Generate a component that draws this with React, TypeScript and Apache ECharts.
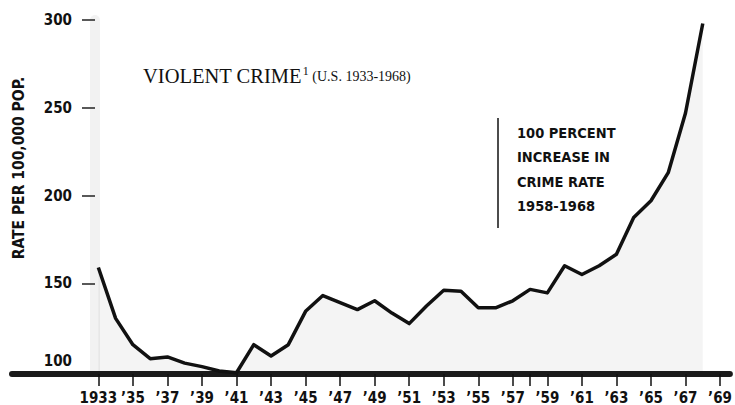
import React, { useEffect, useRef } from "react";
import * as echarts from "echarts";

const years = [
  1933, 1934, 1935, 1936, 1937, 1938, 1939, 1940, 1941, 1942, 1943, 1944,
  1945, 1946, 1947, 1948, 1949, 1950, 1951, 1952, 1953, 1954, 1955, 1956,
  1957, 1958, 1959, 1960, 1961, 1962, 1963, 1964, 1965, 1966, 1967, 1968,
];
const rates = [
  159, 130, 115, 107, 108, 104.5, 102.5, 100, 99, 115, 108.5, 115,
  134, 143, 139, 135, 140, 133, 127, 137, 146, 145.5, 136, 136,
  140, 146.5, 144.5, 160, 155, 160, 166.5, 187.5, 197, 213, 247, 298,
];
const xTickValues = [
  1933, 1935, 1937, 1939, 1941, 1943, 1945, 1947, 1949, 1951, 1953, 1955,
  1957, 1958, 1959, 1961, 1963, 1965, 1967, 1969,
];
const xLabelValues = [
  1933, 1935, 1937, 1939, 1941, 1943, 1945, 1947, 1949, 1951, 1953, 1955,
  1957, 1959, 1961, 1963, 1965, 1967, 1969,
];
const yTickValues = [150, 200, 250, 300];
const yLabelValues = [100, 150, 200, 250, 300];

const title = "VIOLENT CRIME";
const titleNote = "1";
const titleSub = "(U.S. 1933-1968)";
const yName = "RATE PER 100,000 POP.";
const annotation = ["100 PERCENT", "INCREASE IN", "CRIME RATE", "1958-1968"];

const SANS = "'Liberation Sans Narrow', 'DejaVu Sans Condensed', 'Liberation Sans', sans-serif";

export default function App() {
  const ref = useRef<HTMLDivElement>(null);
  useEffect(() => {
    document.body.style.margin = "0";
    const chart = echarts.init(ref.current!, null, { renderer: "svg" });
    chart.setOption({
      animation: false,
      backgroundColor: "#ffffff",
      grid: { left: 12, right: 0, top: 20, bottom: 34 },
      xAxis: {
        type: "value",
        min: 1928,
        max: 1969.57,
        offset: 3,
        splitLine: { show: false },
        axisLine: { show: true, lineStyle: { color: "#1a1a1a", width: 6 } },
        axisTick: {
          show: true,
          length: 12,
          customValues: xTickValues,
          lineStyle: { color: "#111", width: 1.5 },
        },
        axisLabel: {
          customValues: xLabelValues,
          margin: 16,
          color: "#111",
          fontFamily: SANS,
          fontWeight: "bold",
          fontSize: 15,
          formatter: (v: number) =>
            v === 1933 ? "1933" : "\u2019" + String(v).slice(2),
        },
      },
      yAxis: {
        type: "value",
        min: 100,
        max: 300,
        offset: -83,
        splitLine: { show: false },
        axisLine: {
          show: true,
          lineStyle: { color: "rgba(0,0,0,0.05)", width: 10 },
        },
        axisTick: {
          show: true,
          length: 13,
          customValues: yTickValues,
          lineStyle: { color: "#222", width: 1.5 },
        },
        axisLabel: {
          customValues: yLabelValues,
          margin: 23,
          color: "#111",
          fontFamily: SANS,
          fontWeight: "bold",
          fontSize: 15,
          lineHeight: 20,
          formatter: (v: number) => (v === 100 ? "100\n " : String(v)),
        },
      },
      series: [
        {
          type: "line",
          data: years.map((y, i) => [y, rates[i]]),
          showSymbol: false,
          clip: false,
          lineStyle: { color: "#111", width: 3.5, join: "round" },
          areaStyle: { color: "rgba(0,0,0,0.06)", origin: "start" },
          z: 3,
        },
      ],
      graphic: [
        {
          type: "text",
          left: 143,
          top: 65,
          style: {
            text: `{a|${title}}{s|${titleNote}}{b| ${titleSub}}`,
            rich: {
              a: { fontFamily: "'Liberation Serif', serif", fontSize: 20.5, fill: "#111" },
              s: {
                fontFamily: "'Liberation Serif', serif",
                fontSize: 12,
                fill: "#111",
                verticalAlign: "top",
                padding: [0, 0, 10, 1],
              },
              b: { fontFamily: "'Liberation Serif', serif", fontSize: 14, fill: "#111" },
            },
          },
        },
        {
          type: "text",
          x: 19,
          y: 168,
          rotation: Math.PI / 2,
          style: {
            text: yName,
            fontFamily: SANS,
            fontWeight: "bold",
            fontSize: 15.5,
            fill: "#111",
            align: "center",
            verticalAlign: "middle",
          },
        },
        {
          type: "line",
          shape: { x1: 498, y1: 118, x2: 498, y2: 228 },
          style: { stroke: "#111", lineWidth: 1.5 },
        },
        {
          type: "text",
          x: 517,
          y: 121,
          style: {
            text: annotation.join("\n"),
            fontFamily: SANS,
            fontWeight: "bold",
            fontSize: 14.5,
            lineHeight: 24.3,
            fill: "#111",
          },
        },
      ],
    });
    return () => chart.dispose();
  }, []);
  return <div ref={ref} style={{ width: 735, height: 405 }} />;
}
